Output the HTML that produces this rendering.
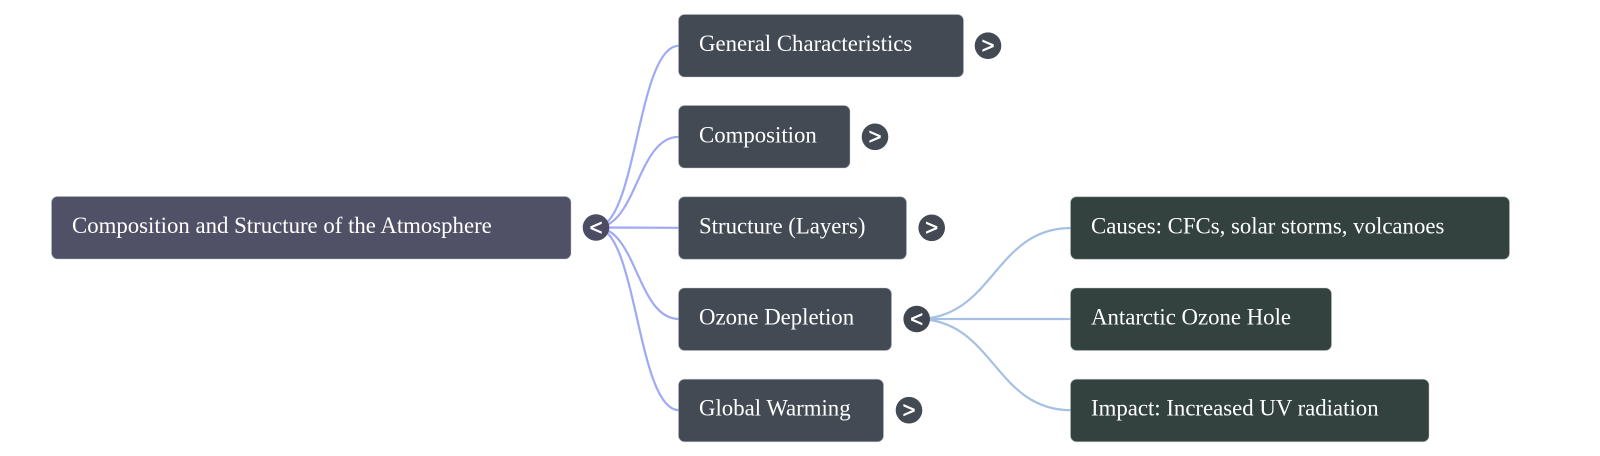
<!DOCTYPE html>
<html>
<head>
<meta charset="utf-8">
<style>
html,body{margin:0;padding:0;background:#ffffff;}
body{width:1600px;height:456px;overflow:hidden;}
svg{display:block;}
.t{font-family:"Liberation Serif","Times New Roman",serif;font-size:22.8px;fill:#ffffff;}
.g{font-family:"Liberation Sans",Arial,sans-serif;font-size:22px;font-weight:normal;fill:#ffffff;stroke:#ffffff;stroke-width:0.6;}
</style>
</head>
<body>
<svg width="1600" height="456" viewBox="0 0 1600 456" xmlns="http://www.w3.org/2000/svg">
  <!-- root connectors -->
  <g fill="none" stroke="#a0a9f5" stroke-width="2.2">
    <path d="M596 227.5 C637 227.5 637 45.7 679 45.7"/>
    <path d="M596 227.5 C637 227.5 637 136.8 679 136.8"/>
    <path d="M596 227.5 C637 227.5 637 227.8 679 227.8"/>
    <path d="M596 227.5 C637 227.5 637 319 679 319"/>
    <path d="M596 227.5 C637 227.5 637 410.2 679 410.2"/>
  </g>
  <!-- ozone connectors -->
  <g fill="none" stroke="#a6c0e3" stroke-width="2.2">
    <path d="M917 319 C994 319 994 228 1071 228"/>
    <path d="M917 319 C994 319 994 319 1071 319"/>
    <path d="M917 319 C994 319 994 410.2 1071 410.2"/>
  </g>

  <!-- root -->
  <rect x="51.5" y="196.5" width="519.5" height="62.5" rx="6" fill="#505166" stroke="#b9bcc8" stroke-opacity="0.45" stroke-width="1"/>
  <text class="t" x="72" y="233">Composition and Structure of the Atmosphere</text>
  <circle cx="596" cy="227.5" r="13.3" fill="#4c4d62"/>
  <text class="g" x="596" y="234.8" text-anchor="middle">&lt;</text>

  <!-- children -->
  <g>
    <rect x="678.5" y="14.5" width="285" height="62.5" rx="6" fill="#434a54" stroke="#b9bec6" stroke-opacity="0.45" stroke-width="1"/>
    <text class="t" x="699" y="51.2">General Characteristics</text>
    <circle cx="988" cy="45.7" r="13.3" fill="#434a54"/>
    <text class="g" x="988" y="53" text-anchor="middle">&gt;</text>

    <rect x="678.5" y="105.5" width="171.5" height="62.5" rx="6" fill="#434a54" stroke="#b9bec6" stroke-opacity="0.45" stroke-width="1"/>
    <text class="t" x="699" y="142.3">Composition</text>
    <circle cx="875" cy="136.8" r="13.3" fill="#434a54"/>
    <text class="g" x="875" y="144.1" text-anchor="middle">&gt;</text>

    <rect x="678.5" y="196.7" width="228" height="62.5" rx="6" fill="#434a54" stroke="#b9bec6" stroke-opacity="0.45" stroke-width="1"/>
    <text class="t" x="699" y="233.3">Structure (Layers)</text>
    <circle cx="931.7" cy="227.8" r="13.3" fill="#434a54"/>
    <text class="g" x="931.7" y="235.1" text-anchor="middle">&gt;</text>

    <rect x="678.5" y="288" width="213" height="62.5" rx="6" fill="#434a54" stroke="#b9bec6" stroke-opacity="0.45" stroke-width="1"/>
    <text class="t" x="699" y="324.5">Ozone Depletion</text>
    <circle cx="916.7" cy="319" r="13.3" fill="#3f4650"/>
    <text class="g" x="916.7" y="326.3" text-anchor="middle">&lt;</text>

    <rect x="678.5" y="379.2" width="205" height="62.5" rx="6" fill="#434a54" stroke="#b9bec6" stroke-opacity="0.45" stroke-width="1"/>
    <text class="t" x="699" y="415.7">Global Warming</text>
    <circle cx="909" cy="410.2" r="13.3" fill="#434a54"/>
    <text class="g" x="909" y="417.5" text-anchor="middle">&gt;</text>
  </g>

  <!-- grandchildren -->
  <g>
    <rect x="1070.5" y="196.7" width="439" height="62.5" rx="6" fill="#33423f" stroke="#b9c4c0" stroke-opacity="0.45" stroke-width="1"/>
    <text class="t" x="1091" y="233.3">Causes: CFCs, solar storms, volcanoes</text>

    <rect x="1070.5" y="288" width="261" height="62.5" rx="6" fill="#33423f" stroke="#b9c4c0" stroke-opacity="0.45" stroke-width="1"/>
    <text class="t" x="1091" y="324.5">Antarctic Ozone Hole</text>

    <rect x="1070.5" y="379.2" width="358.5" height="62.5" rx="6" fill="#33423f" stroke="#b9c4c0" stroke-opacity="0.45" stroke-width="1"/>
    <text class="t" x="1091" y="415.7">Impact: Increased UV radiation</text>
  </g>
</svg>
</body>
</html>
